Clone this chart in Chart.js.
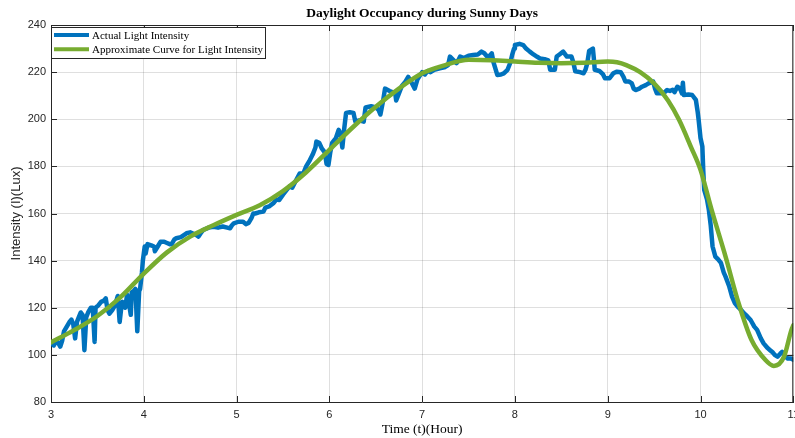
<!DOCTYPE html>
<html>
<head>
<meta charset="utf-8">
<title>Daylight Occupancy during Sunny Days</title>
<script src="https://cdn.jsdelivr.net/npm/chart.js@4.4.1/dist/chart.umd.min.js"></script>
<style>
    html, body { margin: 0; padding: 0; background: #fff; overflow: hidden; }
    #wrap { width: 805px; height: 438px; }
</style>
</head>
<body>
<div id="wrap"><canvas id="lightChart" width="805" height="438"></canvas></div>
<script>
// Measured light intensity (Lux) against time of day (hour)
const actualHours = [
    3.00, 3.03, 3.06, 3.08, 3.10, 3.12, 3.14, 3.17, 3.20, 3.22, 3.24, 3.26, 3.28, 3.30, 3.32, 3.34,
    3.36, 3.38, 3.40, 3.43, 3.45, 3.47, 3.48, 3.51, 3.54, 3.57, 3.59, 3.61, 3.63, 3.66, 3.69, 3.72,
    3.74, 3.76, 3.77, 3.80, 3.82, 3.84, 3.86, 3.87, 3.89, 3.91, 3.93, 3.95, 3.96, 3.98, 3.99, 4.01,
    4.02, 4.04, 4.08, 4.11, 4.12, 4.15, 4.18, 4.22, 4.25, 4.28, 4.30, 4.33, 4.35, 4.40, 4.46, 4.50,
    4.53, 4.56, 4.59, 4.62, 4.64, 4.70, 4.75, 4.80, 4.85, 4.90, 4.93, 4.95, 4.97, 5.02, 5.07, 5.10,
    5.13, 5.16, 5.18, 5.20, 5.24, 5.29, 5.31, 5.35, 5.40, 5.43, 5.46, 5.50, 5.54, 5.57, 5.60, 5.64,
    5.68, 5.72, 5.75, 5.79, 5.82, 5.85, 5.86, 5.89, 5.92, 5.95, 5.97, 5.99, 6.01, 6.03, 6.07, 6.10,
    6.12, 6.14, 6.16, 6.18, 6.22, 6.26, 6.28, 6.32, 6.37, 6.39, 6.45, 6.50, 6.53, 6.55, 6.58, 6.60,
    6.65, 6.71, 6.72, 6.75, 6.78, 6.82, 6.85, 6.88, 6.92, 6.95, 7.00, 7.03, 7.06, 7.09, 7.13, 7.19,
    7.24, 7.28, 7.30, 7.34, 7.37, 7.39, 7.41, 7.45, 7.50, 7.55, 7.60, 7.64, 7.67, 7.70, 7.73, 7.75,
    7.77, 7.81, 7.85, 7.88, 7.92, 7.95, 7.97, 7.99, 8.00, 8.05, 8.09, 8.12, 8.16, 8.20, 8.24, 8.27,
    8.32, 8.36, 8.38, 8.43, 8.45, 8.48, 8.52, 8.56, 8.61, 8.63, 8.65, 8.70, 8.74, 8.76, 8.78, 8.80,
    8.84, 8.85, 8.86, 8.91, 8.95, 8.97, 9.02, 9.06, 9.10, 9.14, 9.17, 9.19, 9.23, 9.26, 9.28, 9.30,
    9.34, 9.37, 9.41, 9.44, 9.49, 9.51, 9.53, 9.57, 9.60, 9.64, 9.67, 9.70, 9.72, 9.75, 9.78, 9.80,
    9.81, 9.82, 9.87, 9.91, 9.95, 9.97, 9.98, 10.00, 10.02, 10.03, 10.04, 10.07, 10.09, 10.11, 10.13, 10.16,
    10.19, 10.22, 10.25, 10.27, 10.31, 10.34, 10.37, 10.40, 10.44, 10.47, 10.50, 10.54, 10.58, 10.61, 10.65, 10.68,
    10.72, 10.75, 10.78, 10.80, 10.83, 10.86, 10.88, 10.91, 10.94, 10.97, 11.00
];
const actualLux = [
    105, 104, 106, 105, 103.5, 106, 110, 112, 114, 115, 113, 107, 114, 116, 118, 117,
    102, 116, 118, 120, 120, 105.5, 120, 121, 122.5, 123, 124, 119, 117.5, 119, 121, 125,
    114, 121, 122.5, 120, 125.5, 122, 117, 126.5, 127, 128, 110, 127, 128, 135, 140, 146,
    143, 147, 146.5, 146, 144, 146, 148, 148, 147.5, 147, 147, 149, 149.5, 150, 151.6, 152,
    151.5, 151, 150.2, 152, 153, 154, 154.4, 154, 154.5, 154, 153.7, 155, 155.8, 156.5, 156.5, 155.5,
    156, 158, 160, 160, 160.5, 160.8, 162.5, 163, 164.5, 166, 165.7, 168, 170, 171.5, 171, 174,
    177, 177, 180, 182.7, 185, 188, 190.5, 190, 187.5, 186, 181, 180.6, 186, 190, 192, 195.5,
    194, 188, 196, 202.7, 203, 202.7, 199, 199.5, 199, 205, 205.5, 205, 204, 202, 208, 213,
    212, 211, 208, 211, 214, 216, 218, 216, 213, 217, 220, 219, 220.5, 220, 221, 221.6,
    222, 223, 226.6, 225, 223.8, 225, 226.6, 226, 227, 227.3, 227.5, 228.7, 228, 226.6, 227, 228,
    224, 218.8, 219, 219.5, 221, 224, 227.3, 230, 231.5, 232, 231.5, 230, 228.7, 227.5, 226.5, 225.8,
    225.5, 225, 221, 221, 226.6, 227.5, 228.7, 226.6, 226.6, 224, 220.4, 220, 219.5, 221, 223.8, 229,
    230, 226, 221, 220.5, 219, 217.4, 217.4, 219.5, 220.2, 220, 218, 216, 216, 215.2, 213, 212.4,
    213, 213.8, 214.5, 215.2, 216, 213, 211, 211, 211, 212.4, 212, 212.5, 211.5, 213.8, 213, 211,
    215.5, 210.3, 210.5, 210.3, 208.2, 203, 199.7, 192, 188.4, 178, 170, 166, 161.5, 155, 146, 141.7,
    140.5, 139, 135, 133.2, 129, 124.7, 122, 120.5, 119, 117.6, 116.5, 114.8, 112, 110.6, 107, 104.9,
    103, 102, 101, 100, 99.2, 100.5, 101.3, 99.5, 98.5, 98.5, 98
];

// Fitted curve
const fitHours = [
    3.0, 3.25, 3.5, 3.75, 4.0, 4.25, 4.5, 4.75, 5.0, 5.25, 5.5, 5.75, 6.0, 6.25, 6.5, 6.75,
    7.0, 7.25, 7.5, 7.75, 8.0, 8.25, 8.5, 8.75, 9.0, 9.1, 9.2, 9.35, 9.5, 9.65, 9.77, 9.9,
    10.0, 10.12, 10.27, 10.41, 10.55, 10.7, 10.79, 10.9, 10.98, 11.0
];
const fitLux = [
    105.3, 110.5, 116.5, 124.5, 134.5, 143.5, 150.2, 155, 159.4, 163.5, 169.5, 177.5, 187, 196.5, 205.3, 213,
    219.5, 223, 225.2, 225, 224.5, 224, 223.8, 224, 224.5, 224.2, 223, 220, 215.2, 208, 199.7, 188,
    178.5, 161.5, 141.7, 122, 106.3, 97.8, 95.3, 99.2, 110.6, 112.5
];

const xTicks = [3, 4, 5, 6, 7, 8, 9, 10, 11];
const yTicks = [80, 100, 120, 140, 160, 180, 200, 220, 240];

const seriesNames = ['Actual Light Intensity', 'Approximate Curve for Light Intensity'];
const seriesColors = ['#0072BD', '#77AC30'];

const axisColor = '#262626';
const gridColor = 'rgba(38, 38, 38, 0.15)';

// Box round the axes with inward tick marks, as in the original figure
const boxAxes = {
    id: 'boxAxes',
    afterDatasetsDraw(chart) {
        const { ctx, chartArea: a, scales: { x, y } } = chart;
        const len = 6;
        ctx.save();
        ctx.strokeStyle = axisColor;
        ctx.lineWidth = 1;
        ctx.beginPath();
        ctx.moveTo(a.left, a.top + 0.5);
        ctx.lineTo(a.right, a.top + 0.5);
        ctx.moveTo(a.right - 0.5, a.top);
        ctx.lineTo(a.right - 0.5, a.bottom);
        xTicks.forEach(v => {
            const px = Math.round(x.getPixelForValue(v)) + 0.5;
            ctx.moveTo(px, a.bottom);
            ctx.lineTo(px, a.bottom - len);
            ctx.moveTo(px, a.top);
            ctx.lineTo(px, a.top + len);
        });
        yTicks.forEach(v => {
            const py = Math.round(y.getPixelForValue(v)) + 0.5;
            ctx.moveTo(a.left, py);
            ctx.lineTo(a.left + len, py);
            ctx.moveTo(a.right, py);
            ctx.lineTo(a.right - len, py);
        });
        ctx.stroke();
        ctx.restore();
    }
};

// Legend inside the top left corner of the plot
const innerLegend = {
    id: 'innerLegend',
    afterDraw(chart) {
        const { ctx, chartArea: a } = chart;
        const x0 = a.left, y0 = a.top + 2;
        const w = 214, rowH = 14.3;
        ctx.save();
        ctx.fillStyle = '#fff';
        ctx.fillRect(x0, y0, w, 31);
        ctx.strokeStyle = axisColor;
        ctx.lineWidth = 1;
        ctx.strokeRect(x0 + 0.5, y0 + 0.5, w, 31);
        ctx.font = '11px "Liberation Serif", serif';
        ctx.textBaseline = 'middle';
        ctx.textAlign = 'left';
        seriesNames.forEach((name, i) => {
            const cy = y0 + 8 + i * rowH;
            ctx.strokeStyle = seriesColors[i];
            ctx.lineWidth = 4;
            ctx.beginPath();
            ctx.moveTo(x0 + 3, cy);
            ctx.lineTo(x0 + 38, cy);
            ctx.stroke();
            ctx.fillStyle = '#000';
            ctx.fillText(name, x0 + 41, cy + 1);
        });
        ctx.restore();
    }
};

const ctx = document.getElementById('lightChart').getContext('2d');
new Chart(ctx, {
    type: 'line',
    data: {
        datasets: [
            {
                label: seriesNames[0],
                data: actualHours.map((h, i) => ({ x: h, y: actualLux[i] })),
                borderColor: seriesColors[0],
                borderWidth: 4.5,
                borderJoinStyle: 'round',
                borderCapStyle: 'round',
                pointRadius: 0,
                tension: 0,
                order: 1
            },
            {
                label: seriesNames[1],
                data: fitHours.map((h, i) => ({ x: h, y: fitLux[i] })),
                borderColor: seriesColors[1],
                borderWidth: 4.5,
                borderCapStyle: 'round',
                pointRadius: 0,
                cubicInterpolationMode: 'monotone',
                order: 0
            }
        ]
    },
    options: {
        responsive: false,
        animation: false,
        layout: { padding: { left: 0, right: 11, top: 0, bottom: 0 } },
        plugins: {
            legend: { display: false },
            tooltip: { enabled: false },
            title: {
                display: true,
                fullSize: false,
                text: 'Daylight Occupancy during Sunny Days',
                color: '#000',
                font: { family: '"Liberation Serif", serif', size: 13.5, weight: 'bold' },
                padding: { top: 5.9, bottom: 2.9 }
            }
        },
        scales: {
            x: {
                type: 'linear',
                min: 3,
                max: 11,
                afterBuildTicks: s => { s.ticks = xTicks.map(v => ({ value: v })); },
                afterFit: s => { s.height = 36; },
                grid: { color: gridColor, drawTicks: false },
                border: { display: true, color: axisColor },
                ticks: {
                    color: axisColor,
                    padding: 6,
                    maxRotation: 0,
                    font: { family: '"Liberation Sans", Arial, sans-serif', size: 11 }
                },
                title: {
                    display: true,
                    text: 'Time (t)(Hour)',
                    color: '#000',
                    font: { family: '"Liberation Serif", serif', size: 13.5 },
                    padding: { top: 0, bottom: 0 }
                }
            },
            y: {
                type: 'linear',
                min: 80,
                max: 240,
                afterBuildTicks: s => { s.ticks = yTicks.map(v => ({ value: v })); },
                afterFit: s => { s.width = 51; },
                grid: { color: gridColor, drawTicks: false },
                border: { display: true, color: axisColor },
                ticks: {
                    color: axisColor,
                    padding: 5,
                    font: { family: '"Liberation Sans", Arial, sans-serif', size: 11 }
                },
                title: {
                    display: true,
                    text: 'Intensity (I)(Lux)',
                    color: axisColor,
                    font: { family: '"Liberation Sans", Arial, sans-serif', size: 13 },
                    padding: { top: 8.2, bottom: 0 }
                }
            }
        }
    },
    plugins: [boxAxes, innerLegend]
});
</script>
</body>
</html>
